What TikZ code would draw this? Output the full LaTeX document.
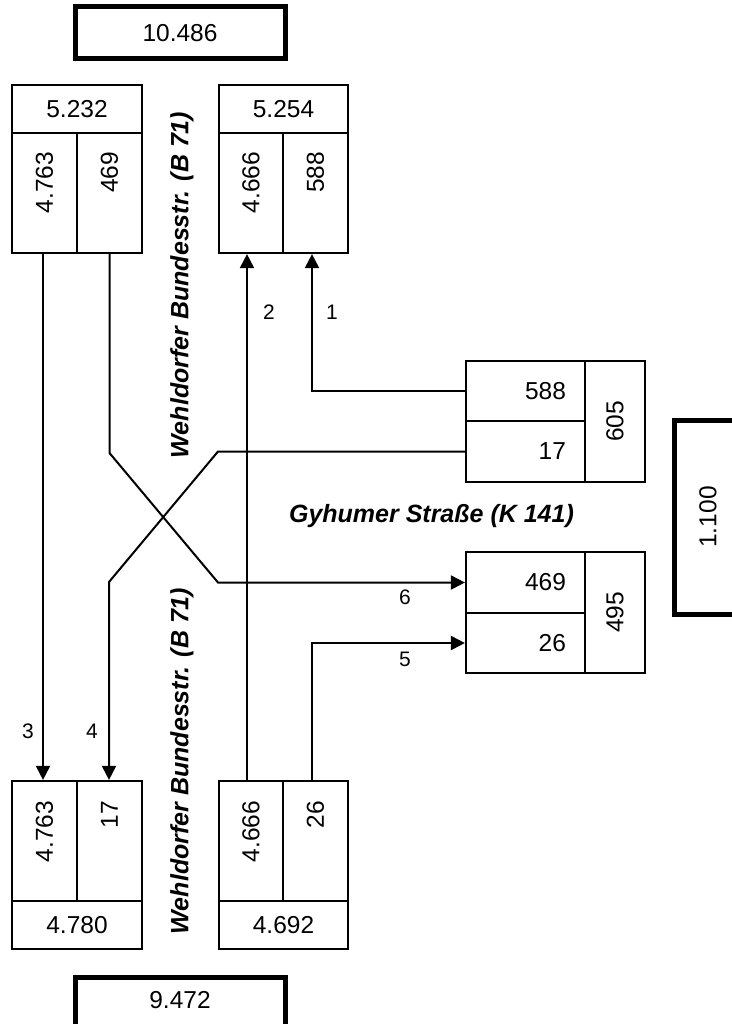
\documentclass[tikz,border=0pt]{standalone}
\usepackage{fontspec}
\setmainfont{Liberation Sans}
\usetikzlibrary{arrows.meta}
\begin{document}
\begin{tikzpicture}[x=1pt,y=-1pt,
  cellbox/.style n args={2}{draw,line width=2.2pt,inner sep=0pt,minimum width=#1,minimum height=#2},
  thickbox/.style n args={2}{draw,line width=5pt,inner sep=0pt,minimum width=#1,minimum height=#2},
  num/.style={inner sep=0pt,font=\fontsize{24.5}{28}\selectfont},
  lbl/.style={inner sep=0pt,font=\fontsize{21}{24}\selectfont},
  road/.style={inner sep=0pt,font=\fontsize{25}{30}\selectfont\bfseries\itshape},
  conn/.style={line width=2pt},
  arr/.style={-{Triangle[length=14pt,width=14pt]}}]
\useasboundingbox (0,0) rectangle (731,1024);

% totals
\node[thickbox={210pt}{52pt}] (T) at (180,33) {};
\node[num] (Tt) at (T) {10.486};
\node[thickbox={210pt}{52pt}] (B) at (180,1003) {};
\node[num] (Bt) at (180,1000) {9.472};
\node[thickbox={68pt}{194pt}] (S) at (708,517) {};
\node[num,rotate=90] (St) at (S) {1.100};

% top-left box
\node[cellbox={130pt}{48pt}] (TLh) at (77,109) {};
\node[cellbox={65pt}{120pt}] (TLa) at (44.5,193) {};
\node[cellbox={65pt}{120pt}] (TLb) at (109.5,193) {};
\node[num] (TLht) at (TLh) {5.232};
\node[num,rotate=90,anchor=east] (TLat) at ([yshift=-20pt]TLa.north) {4.763};
\node[num,rotate=90,anchor=east] (TLbt) at ([yshift=-20pt]TLb.north) {469};

% top-right box
\node[cellbox={129pt}{48pt}] (TRh) at (283.5,109) {};
\node[cellbox={64pt}{120pt}] (TRa) at (251,193) {};
\node[cellbox={65pt}{120pt}] (TRb) at (315.5,193) {};
\node[num] (TRht) at (TRh) {5.254};
\node[num,rotate=90,anchor=east] (TRat) at ([yshift=-20pt]TRa.north) {4.666};
\node[num,rotate=90,anchor=east] (TRbt) at ([yshift=-20pt]TRb.north) {588};

% bottom-left box
\node[cellbox={65pt}{120pt}] (BLa) at (44.5,841) {};
\node[cellbox={65pt}{120pt}] (BLb) at (109.5,841) {};
\node[cellbox={130pt}{48pt}] (BLf) at (77,925) {};
\node[num,rotate=90,anchor=east] (BLat) at ([yshift=-21pt]BLa.north) {4.763};
\node[num,rotate=90,anchor=east] (BLbt) at ([yshift=-21pt]BLb.north) {17};
\node[num] (BLft) at (BLf) {4.780};

% bottom-right box
\node[cellbox={64pt}{120pt}] (BRa) at (251,841) {};
\node[cellbox={65pt}{120pt}] (BRb) at (315.5,841) {};
\node[cellbox={129pt}{48pt}] (BRf) at (283.5,925) {};
\node[num,rotate=90,anchor=east] (BRat) at ([yshift=-21pt]BRa.north) {4.666};
\node[num,rotate=90,anchor=east] (BRbt) at ([yshift=-21pt]BRb.north) {26};
\node[num] (BRft) at (BRf) {4.692};

% right upper box
\node[cellbox={119pt}{60pt}] (R1a) at (525.5,391) {};
\node[cellbox={119pt}{61pt}] (R1b) at (525.5,451.5) {};
\node[cellbox={60pt}{121pt}] (R1s) at (615,421.5) {};
\node[num,anchor=east] (R1at) at ([xshift=-20pt]R1a.east) {588};
\node[num,anchor=east] (R1bt) at ([xshift=-20pt]R1b.east) {17};
\node[num,rotate=90] (R1st) at (R1s) {605};

% right lower box
\node[cellbox={119pt}{61pt}] (R2a) at (525.5,582.5) {};
\node[cellbox={119pt}{60pt}] (R2b) at (525.5,643) {};
\node[cellbox={60pt}{121pt}] (R2s) at (615,612.5) {};
\node[num,anchor=east] (R2at) at ([xshift=-20pt]R2a.east) {469};
\node[num,anchor=east] (R2bt) at ([xshift=-20pt]R2b.east) {26};
\node[num,rotate=90] (R2st) at (R2s) {495};

% road names
\node[road,rotate=90] (rdN) at (182,285) {Wehldorfer Bundesstr. (B 71)};
\node[road,rotate=90] (rdS) at (182,761) {Wehldorfer Bundesstr. (B 71)};
\node[road,anchor=base] (rdE) at (431.5,522) {Gyhumer Straße (K 141)};

% bend points
\coordinate (k1) at (218,451.5);
\coordinate (k2) at (109,582);
\coordinate (k3) at (109.5,453);
\coordinate (k4) at (218,582.5);

% connectors
\draw[conn,arr] (R1a.west) -| ([xshift=-3.5pt]TRb.south);
\draw[conn,arr] ([xshift=-4pt]BRa.north) -- ([xshift=-4pt]TRa.south);
\draw[conn,arr] ([xshift=-1.5pt]TLa.south) -- ([xshift=-1.5pt]BLa.north);
\draw[conn,arr] (R1b.west) -- (k1) -- (k2) -- ([xshift=-0.5pt]BLb.north);
\draw[conn,arr] ([xshift=-3.5pt]BRb.north) |- (R2b.west);
\draw[conn,arr] (TLb.south) -- (k3) -- (k4) -- (R2a.west);

% connector labels
\node[lbl] (n1) at (332,312) {1};
\node[lbl] (n2) at (269,312) {2};
\node[lbl] (n3) at (28,731) {3};
\node[lbl] (n4) at (92,731) {4};
\node[lbl] (n5) at (405,659) {5};
\node[lbl] (n6) at (405,597) {6};
\end{tikzpicture}
\end{document}
